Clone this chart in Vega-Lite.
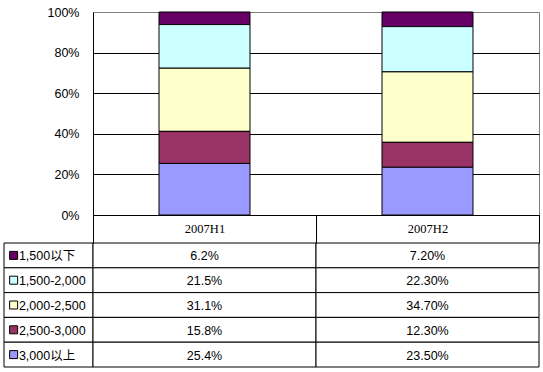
{
  "$schema": "https://vega.github.io/schema/vega-lite/v6.json",
  "padding": {"left": 3, "top": 5, "right": 5, "bottom": 5},
  "background": "white",
  "config": {"view": {"stroke": null}, "font": "Liberation Sans"},
  "datasets": {
    "rows": [
      {"period": "2007H1", "band": "1,500以下", "value": 6.2, "label": "6.2%", "k": 5},
      {"period": "2007H1", "band": "1,500-2,000", "value": 21.5, "label": "21.5%", "k": 4},
      {"period": "2007H1", "band": "2,000-2,500", "value": 31.1, "label": "31.1%", "k": 3},
      {"period": "2007H1", "band": "2,500-3,000", "value": 15.8, "label": "15.8%", "k": 2},
      {"period": "2007H1", "band": "3,000以上", "value": 25.4, "label": "25.4%", "k": 1},
      {"period": "2007H2", "band": "1,500以下", "value": 7.2, "label": "7.20%", "k": 5},
      {"period": "2007H2", "band": "1,500-2,000", "value": 22.3, "label": "22.30%", "k": 4},
      {"period": "2007H2", "band": "2,000-2,500", "value": 34.7, "label": "34.70%", "k": 3},
      {"period": "2007H2", "band": "2,500-3,000", "value": 12.3, "label": "12.30%", "k": 2},
      {"period": "2007H2", "band": "3,000以上", "value": 23.5, "label": "23.50%", "k": 1}
    ]
  },
  "columns": 2,
  "align": "each",
  "bounds": "flush",
  "spacing": {"row": 28, "column": 0},
  "resolve": {"scale": {"x": "independent", "y": "independent"}},
  "concat": [
    {
      "width": 89,
      "height": 203,
      "data": {"values": []},
      "mark": {"type": "point", "opacity": 0},
      "encoding": {}
    },
    {
      "width": 446,
      "height": 203,
      "data": {"name": "rows"},
      "view": {"stroke": "#808080", "strokeWidth": 1},
      "mark": {"type": "bar", "stroke": "black", "strokeWidth": 1},
      "encoding": {
        "x": {
          "field": "period", "type": "nominal",
          "scale": {"paddingInner": 0.592, "paddingOuter": 0.296},
          "axis": {"labels": false, "ticks": false, "title": null, "domainColor": "black", "grid": false}
        },
        "y": {
          "field": "value", "type": "quantitative", "stack": "normalize",
          "scale": {"domain": [0, 1]},
          "axis": {
            "values": [0, 0.2, 0.4, 0.6, 0.8, 1],
            "format": ".0%",
            "title": null,
            "ticks": false,
            "labelPadding": 14,
            "labelFont": "Liberation Sans",
            "labelFontSize": 12.5,
            "labelColor": "black",
            "domainColor": "black",
            "grid": true,
            "gridColor": {"condition": {"test": "datum.value >= 0.999", "value": "#808080"}, "value": "black"},
            "gridOpacity": 1
          }
        },
        "color": {
          "field": "band", "type": "nominal",
          "scale": {
            "domain": ["1,500以下", "1,500-2,000", "2,000-2,500", "2,500-3,000", "3,000以上"],
            "range": ["#660066", "#CCFFFF", "#FFFFCC", "#993366", "#9999FF"]
          },
          "legend": null
        },
        "order": {"field": "k", "type": "quantitative"}
      }
    },
    {
      "width": 89,
      "height": 124,
      "data": {"name": "rows"},
      "transform": [{"filter": "datum.period === '2007H1'"}],
      "encoding": {
        "y": {
          "field": "band", "type": "nominal",
          "scale": {"domain": ["1,500以下", "1,500-2,000", "2,000-2,500", "2,500-3,000", "3,000以上"], "paddingInner": 0, "paddingOuter": 0},
          "axis": null
        }
      },
      "layer": [
        {"mark": {"type": "rect", "fill": "white", "stroke": "black", "strokeWidth": 1}},
        {
          "mark": {"type": "point", "shape": "square", "filled": true, "size": 64, "stroke": "black", "strokeWidth": 1, "opacity": 1},
          "encoding": {
            "x": {"datum": "swatch", "type": "nominal", "scale": {"type": "point", "domain": ["swatch", "label"], "range": [7, 17.5]}, "axis": null},
            "color": {
              "field": "band", "type": "nominal",
              "scale": {
                "domain": ["1,500以下", "1,500-2,000", "2,000-2,500", "2,500-3,000", "3,000以上"],
                "range": ["#660066", "#CCFFFF", "#FFFFCC", "#993366", "#9999FF"]
              },
              "legend": null
            }
          }
        },
        {
          "mark": {"type": "text", "align": "left", "font": "Liberation Sans, Noto Sans CJK SC", "fontSize": 12.5, "color": "black", "dy": 1},
          "encoding": {
            "x": {"datum": "label", "type": "nominal"},
            "text": {"field": "band"}
          }
        }
      ]
    },
    {
      "width": 446,
      "height": 124,
      "data": {"name": "rows"},
      "encoding": {
        "x": {
          "field": "period", "type": "nominal",
          "scale": {"paddingInner": 0, "paddingOuter": 0},
          "axis": {
            "orient": "top", "title": null,
            "labelFont": "Liberation Serif", "labelFontSize": 12.5, "labelColor": "black", "labelAngle": 0,
            "tickBand": "extent", "tickSize": 28, "tickColor": "black", "ticks": true,
            "domain": false, "labelPadding": -20, "grid": false
          }
        },
        "y": {
          "field": "band", "type": "nominal",
          "scale": {"domain": ["1,500以下", "1,500-2,000", "2,000-2,500", "2,500-3,000", "3,000以上"], "paddingInner": 0, "paddingOuter": 0},
          "axis": null
        }
      },
      "layer": [
        {"mark": {"type": "rect", "fill": "white", "stroke": "black", "strokeWidth": 1}},
        {
          "mark": {"type": "text", "font": "Liberation Sans", "fontSize": 12.5, "color": "black", "dy": 1},
          "encoding": {"text": {"field": "label"}}
        }
      ]
    }
  ]
}
